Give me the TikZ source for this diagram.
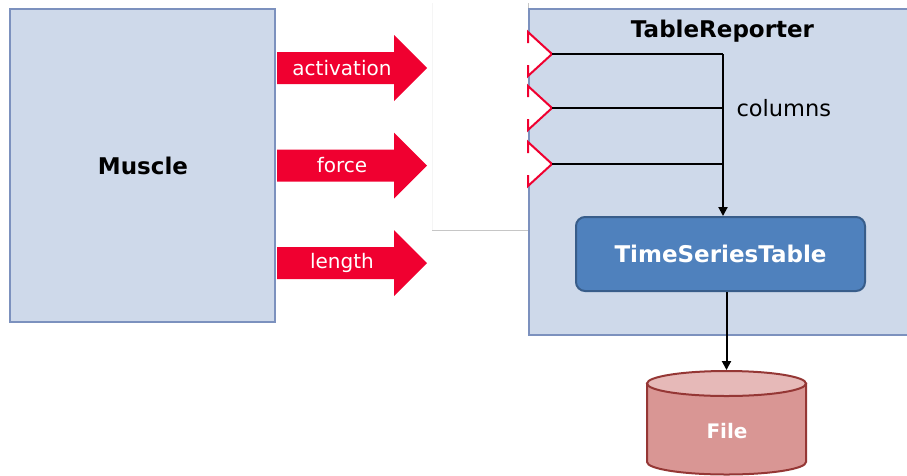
\documentclass[tikz,border=0pt]{standalone}
\usepackage{fontspec}
\setmainfont{DejaVu Sans}
\usetikzlibrary{arrows.meta}
\definecolor{boxfill}{RGB}{206,217,234}
\definecolor{boxedge}{RGB}{124,145,190}
\definecolor{tablefill}{RGB}{79,129,189}
\definecolor{tableedge}{RGB}{56,93,138}
\definecolor{portred}{RGB}{240,0,48}
\definecolor{filebody}{RGB}{217,150,148}
\definecolor{fileend}{RGB}{230,185,184}
\definecolor{fileedge}{RGB}{149,55,53}
\tikzset{block/.style={draw=boxedge,fill=boxfill,line width=2.5pt},
  title/.style={font=\fontsize{23}{27}\selectfont\bfseries},
  armtext/.style={text=white,font=\fontsize{20}{24}\selectfont},
  arr/.style={-{Triangle[length=9pt,width=9pt]},line width=2pt}}

\begin{document}
\begin{tikzpicture}[x=1pt,y=-1pt]
\useasboundingbox (0,0) rectangle (907,475);
% components
\node[block,minimum width=265,minimum height=313] (muscle) at (142.5,165.5) {};
\node[title] (mlabel) at (143,166) {Muscle};
\fill[white] (432,3) rectangle (528,230);
\draw[gray!8] (432,3)--(432,230);
\draw[gray!45,line width=1pt] (432,230)--(528,230)--(528,3);
\node[block,minimum width=391,minimum height=326] (reporter) at (724.5,172) {};
\node[title] (rlabel) at (722.5,31) {TableReporter};
% outputs of the muscle
\foreach \yy in {68,165.5,263}
  \fill[portred] (277,\yy-16)--(394,\yy-16)--(394,\yy-33)--(427,\yy)--(394,\yy+33)--(394,\yy+16)--(277,\yy+16)--cycle;
\node[armtext] (act) at (342,68) {activation};
\node[armtext] (frc) at (342,165.5) {force};
\node[armtext] (len) at (342,263) {length};
% inputs of the reporter
\foreach \yy/\i in {54/1,108/2,164/3}{
  \fill[white] (528,\yy-22)--(552,\yy)--(528,\yy+22)--cycle;
  \draw[portred,line width=2pt] (528,\yy-11)--(528,\yy-22)--(552,\yy)--(528,\yy+22)--(528,\yy+11);
  \coordinate (p\i) at (552,\yy);
  \coordinate (j\i) at (723,\yy);
}
\node[draw=tableedge,fill=tablefill,line width=2pt,rounded corners=9pt,minimum width=289,minimum height=74,title,text=white] (table) at (720.5,254) {TimeSeriesTable};
\draw[line width=2pt] (p1)--(j1);
\draw[line width=2pt] (p2)--(j2);
\draw[line width=2pt] (p3)--(j3);
\draw[arr] (j1)--(table.north-|j1);
\node[anchor=west,font=\fontsize{22.5}{26}\selectfont] (cols) at (733,108) {columns};
% file
\coordinate (ftop) at (726.5,370);
\filldraw[fill=filebody,draw=fileedge,line width=2pt] (647,383.5)--(647,462) arc[start angle=180,end angle=0,x radius=79.5,y radius=12.5]--(806,383.5)--cycle;
\filldraw[fill=fileend,draw=fileedge,line width=2pt] (726.5,383.5) ellipse[x radius=79.5,y radius=12.5];
\node[text=white,font=\fontsize{20}{24}\selectfont\bfseries] (file) at (727,431) {File};
\draw[arr] (table.south-|ftop)--(ftop);
\end{tikzpicture}
\end{document}
